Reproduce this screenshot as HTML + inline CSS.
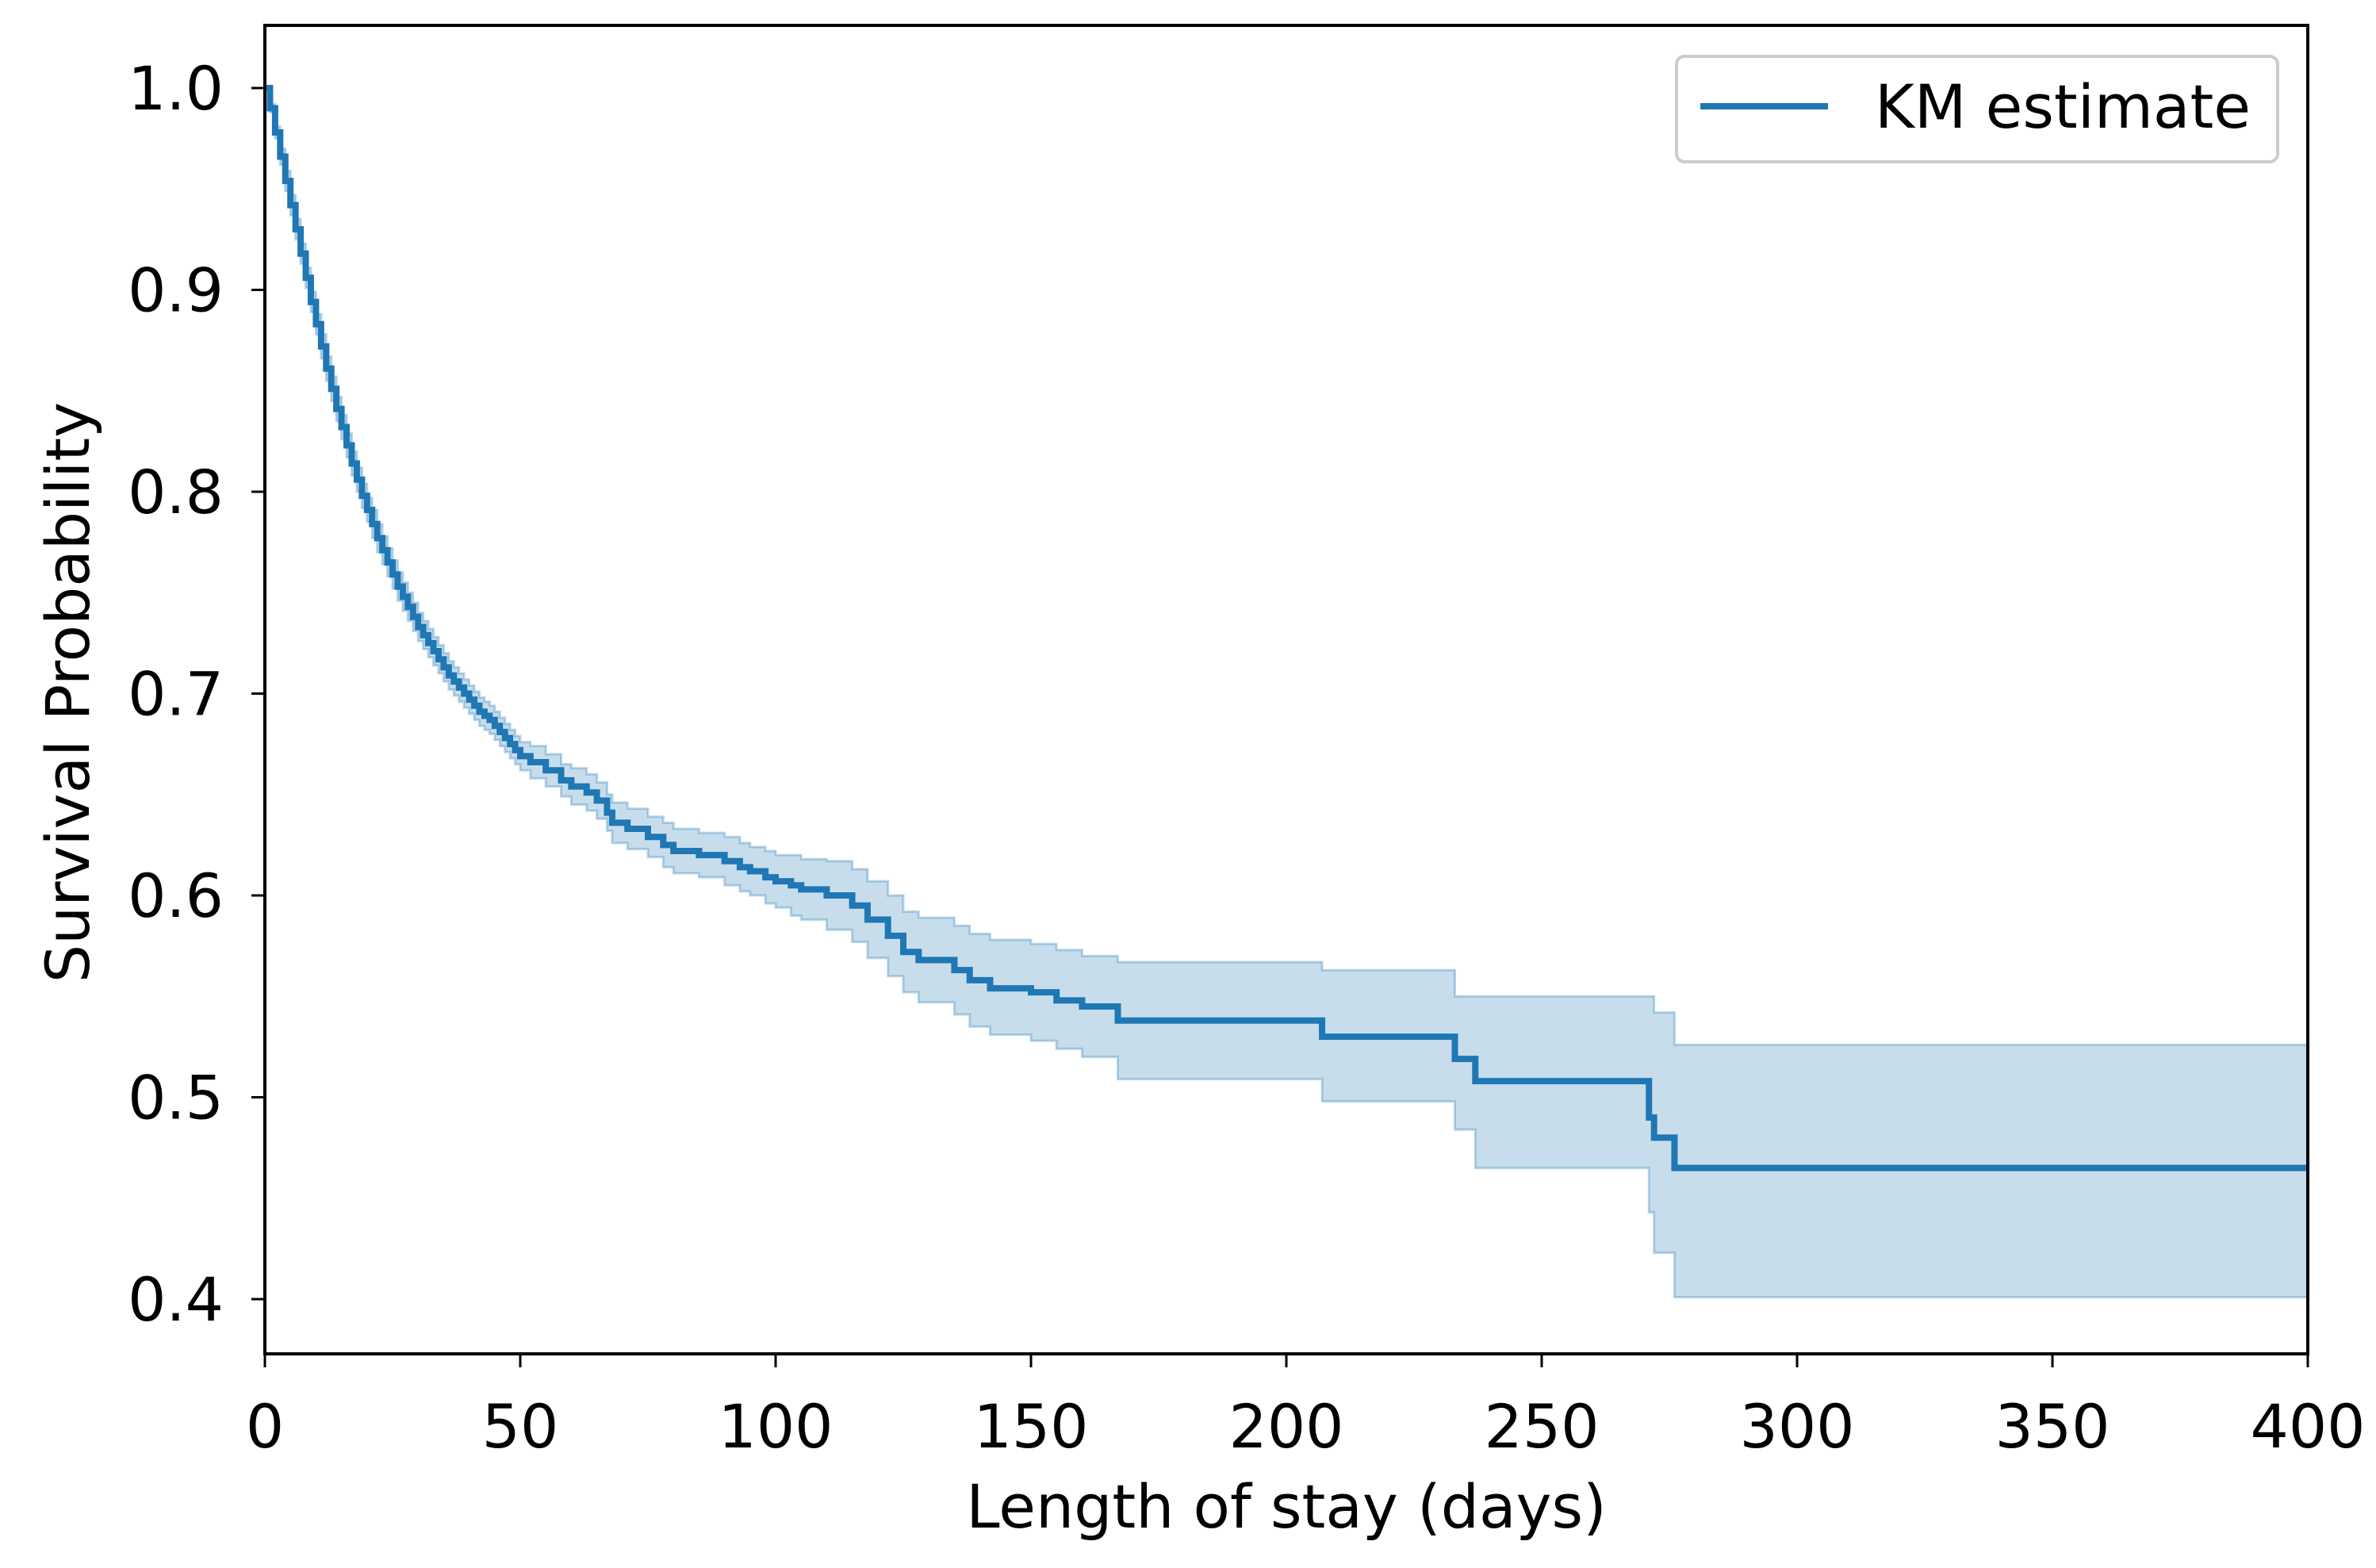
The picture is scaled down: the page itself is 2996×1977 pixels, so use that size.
<!DOCTYPE html>
<html><head><meta charset="utf-8"><style>
html,body{margin:0;padding:0;background:#fff}
svg{display:block}
text{font-family:"DejaVu Sans","Liberation Sans",sans-serif;fill:#000}
</style></head><body>
<svg id="chart" width="2996" height="1977" viewBox="0 0 2996 1977" xmlns="http://www.w3.org/2000/svg">
<g id="ci"></g>
<g id="line"></g>
<g id="axes"></g>
<text x="1622" y="1926" font-size="76" text-anchor="middle">Length of stay (days)</text>
<text x="0" y="0" font-size="76" text-anchor="middle" transform="translate(112,873) rotate(-90)">Survival Probability</text>
<g>
<rect x="2114" y="71" width="758" height="133" rx="10" fill="#fff" stroke="#ccc" stroke-width="4"/>
<line x1="2144" y1="134" x2="2305" y2="134" stroke="#1f77b4" stroke-width="8"/>
<text x="2364" y="161" font-size="76">KM estimate</text>
</g>
</svg>
<script>
const times = [0,1,2,3,4,5,6,7,8,9,10,11,12,13,14,15,16,17,18,19,20,21,22,23,24,25,26,27,28,29,30,31,32,33,34,35,36,37,38,39,40,41,42,43,44,45,46,47,48,49,50,
52,55,58,60,63,65,67,68,71,75,78,80,85,90,93,95,98,100,103,105,110,115,118,122,125,128,
135,138,142,150,155,160,167,207,233,237,271,272,276];
const surv = [1.0,0.99,0.978,0.966,0.954,0.942,0.93,0.918,0.906,0.894,0.883,0.872,0.861,0.851,0.841,0.832,0.823,0.814,0.806,0.798,0.791,0.784,0.777,0.771,0.765,0.759,0.753,0.748,0.743,0.738,0.733,0.729,0.725,0.721,0.717,0.713,0.709,0.706,0.703,0.7,0.697,0.694,0.691,0.689,0.687,0.684,0.681,0.678,0.675,0.672,0.669,
0.666,0.662,0.657,0.654,0.651,0.647,0.641,0.636,0.633,0.629,0.625,0.622,0.620,0.617,0.614,0.612,0.609,0.607,0.605,0.603,0.600,0.595,0.588,0.580,0.572,0.568,
0.563,0.558,0.554,0.552,0.548,0.545,0.538,0.530,0.519,0.508,0.490,0.480,0.465];
const lower = [1.0,0.988,0.975,0.962,0.949,0.937,0.925,0.913,0.901,0.889,0.878,0.866,0.855,0.845,0.835,0.826,0.817,0.808,0.80,0.792,0.785,0.777,0.770,0.764,0.758,0.752,0.746,0.741,0.736,0.731,0.726,0.722,0.718,0.714,0.710,0.706,0.702,0.699,0.696,0.693,0.690,0.687,0.684,0.682,0.680,0.677,0.674,0.671,0.668,0.665,0.662,
0.658,0.654,0.649,0.645,0.642,0.638,0.632,0.626,0.623,0.619,0.614,0.611,0.609,0.605,0.602,0.600,0.596,0.594,0.590,0.588,0.583,0.577,0.569,0.560,0.552,0.547,
0.541,0.535,0.531,0.528,0.524,0.52,0.509,0.498,0.484,0.465,0.443,0.423,0.401];
const upper = [1.0,0.992,0.981,0.970,0.959,0.947,0.935,0.923,0.911,0.899,0.888,0.878,0.867,0.857,0.847,0.838,0.829,0.820,0.812,0.804,0.797,0.791,0.784,0.778,0.772,0.766,0.760,0.755,0.750,0.745,0.740,0.736,0.732,0.728,0.724,0.720,0.716,0.713,0.710,0.707,0.704,0.701,0.698,0.696,0.694,0.691,0.688,0.685,0.682,0.679,0.676,
0.674,0.670,0.665,0.663,0.660,0.656,0.650,0.646,0.643,0.639,0.636,0.633,0.631,0.629,0.626,0.624,0.622,0.620,0.620,0.618,0.617,0.613,0.607,0.600,0.592,0.589,
0.585,0.581,0.578,0.576,0.573,0.57,0.567,0.563,0.55,0.55,0.55,0.542,0.526];
const xTicks = [0,50,100,150,200,250,300,350,400];
const yTicks = [0.4,0.5,0.6,0.7,0.8,0.9,1.0];
const xMax = 400;

const L=334,R=2910,T=32,B=1707;
const X=d=>L+(d/400)*(R-L);
const Y=v=>111+(1.0-v)*(1638-111)/0.6;
const NS="http://www.w3.org/2000/svg";
function mk(tag,attrs,parent){const e=document.createElementNS(NS,tag);for(const k in attrs)e.setAttribute(k,attrs[k]);parent.appendChild(e);return e;}

function stepPts(vals){
  const p=[];
  for(let i=0;i<times.length;i++){
    if(i>0)p.push([X(times[i]),Y(vals[i-1])]);
    p.push([X(times[i]),Y(vals[i])]);
  }
  p.push([X(xMax),Y(vals[vals.length-1])]);
  return p;
}
const up=stepPts(upper), lo=stepPts(lower), sv=stepPts(surv);
const ci=document.getElementById('ci');
const band=mk('path',{d:'M'+up.map(p=>p.join(',')).join('L')+'L'+lo.slice().reverse().map(p=>p.join(',')).join('L')+'Z',fill:'rgba(31,119,180,0.25)',stroke:'none'},ci);


const ue=mk('polyline',{points:up.map(p=>p.join(',')).join(' '),fill:'none',stroke:'rgba(31,119,180,0.3)','stroke-width':3},ci);


const le=mk('polyline',{points:lo.map(p=>p.join(',')).join(' '),fill:'none',stroke:'rgba(31,119,180,0.3)','stroke-width':3},ci);


const ln=mk('polyline',{points:sv.map(p=>p.join(',')).join(' '),fill:'none',stroke:'#1f77b4','stroke-width':8,'stroke-linejoin':'miter'},document.getElementById('line'));



const ax=document.getElementById('axes');
const fr=mk('rect',{x:L,y:T,width:R-L,height:B-T,fill:'none',stroke:'#000','stroke-width':4},ax);


xTicks.forEach(t=>{
  const tk=mk('line',{x1:X(t),y1:B,x2:X(t),y2:B+17,stroke:'#000','stroke-width':3},ax);
  
  
  const tx=mk('text',{x:X(t),y:1825,'font-size':76,'text-anchor':'middle'},ax);
  tx.textContent=t;
  
  
});
yTicks.forEach(t=>{
  const tk=mk('line',{x1:L-17,y1:Y(t),x2:L,y2:Y(t),stroke:'#000','stroke-width':3},ax);
  
  
  const tx=mk('text',{x:282,y:Y(t)+27,'font-size':76,'text-anchor':'end'},ax);
  tx.textContent=t.toFixed(1);
  
  
});
</script>
</body></html>
